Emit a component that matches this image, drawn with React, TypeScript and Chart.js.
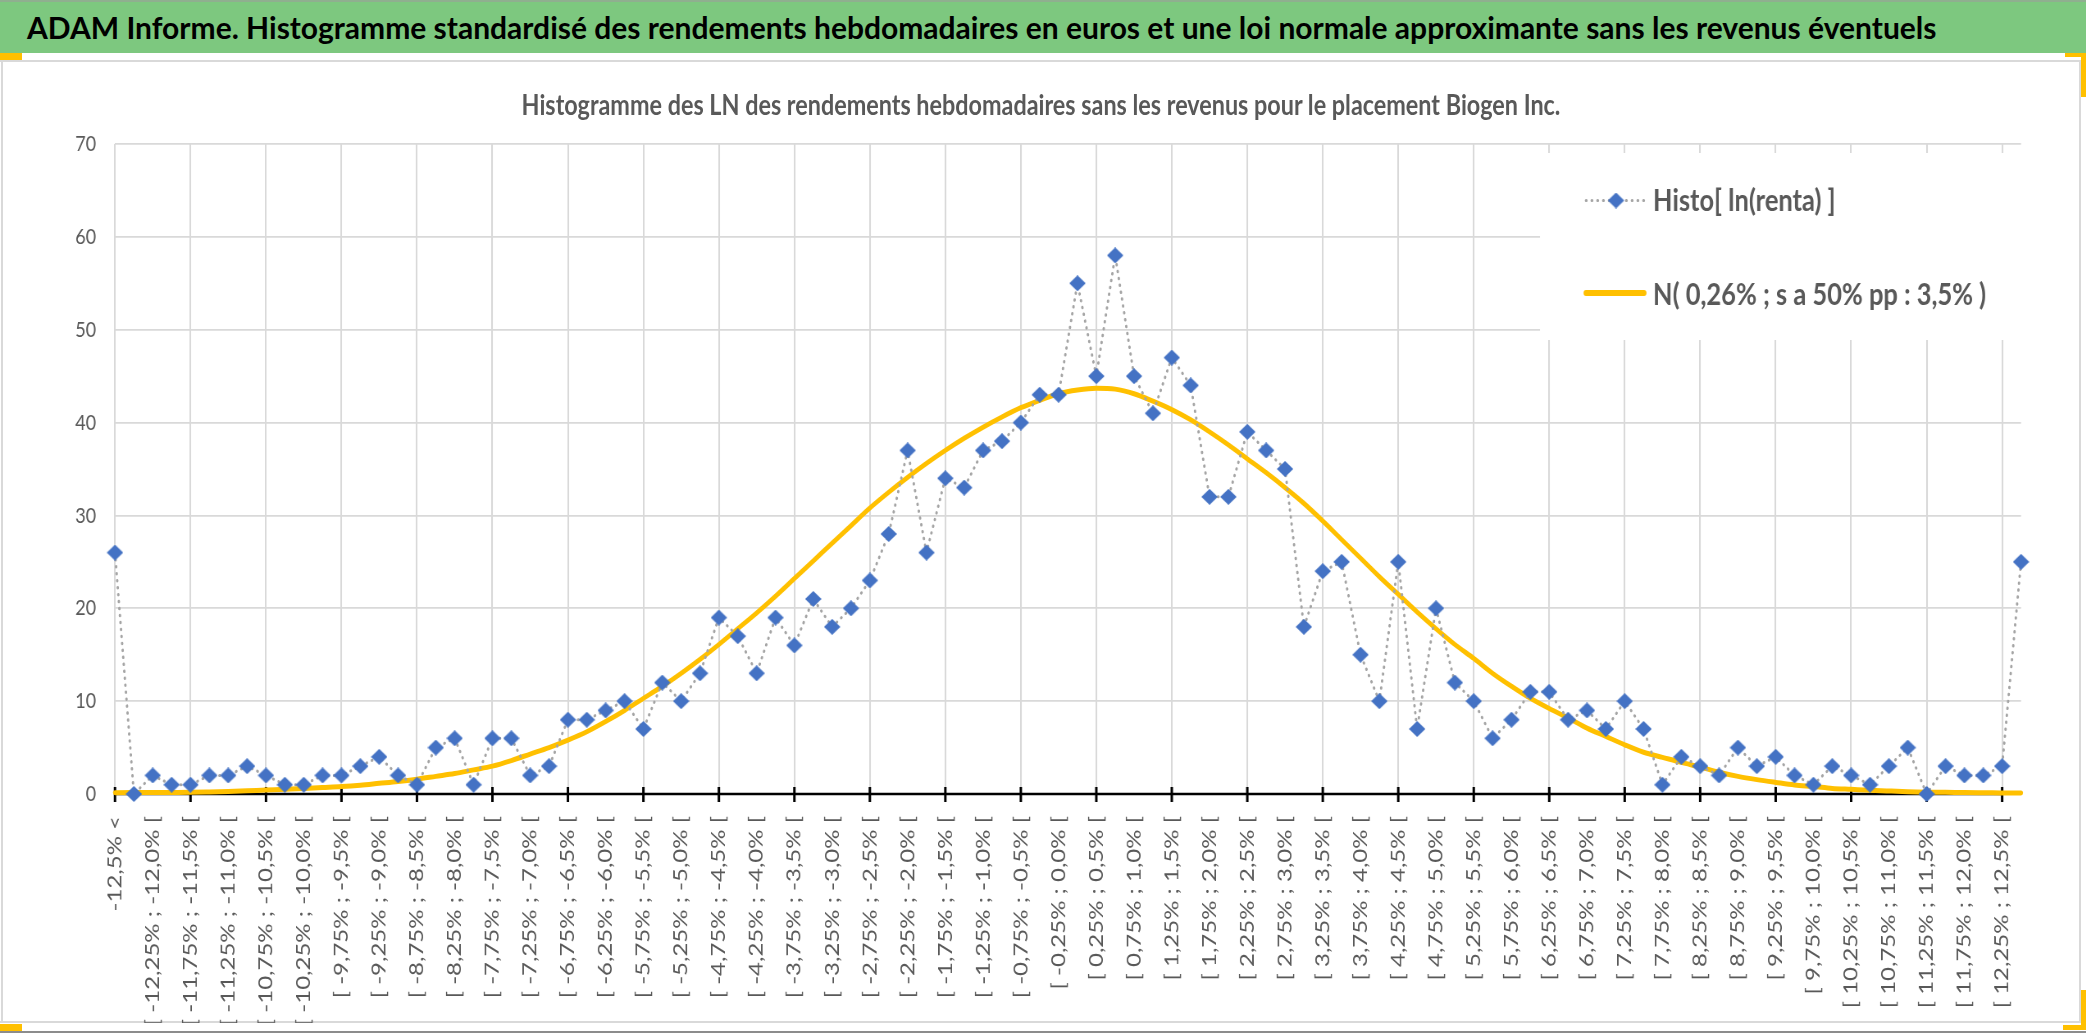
import React, { useEffect, useRef } from 'react';
import { Chart, registerables } from 'chart.js';

Chart.register(...registerables);

// ---------------- data ----------------
const TITLE =
  'ADAM Informe. Histogramme standardisé des rendements hebdomadaires en euros et une loi normale approximante sans les revenus éventuels';
const SUBTITLE =
  'Histogramme des LN des rendements hebdomadaires sans les revenus pour le placement Biogen Inc.';
const SERIES_HIST = 'Histo[ ln(renta) ]';
const SERIES_NORMAL = 'N( 0,26% ; s a 50% pp : 3,5% )';

const BIN_EDGES: string[] = [
  '-12,5', '-12,25', '-12,0', '-11,75', '-11,5', '-11,25', '-11,0', '-10,75', '-10,5', '-10,25',
  '-10,0', '-9,75', '-9,5', '-9,25', '-9,0', '-8,75', '-8,5', '-8,25', '-8,0', '-7,75',
  '-7,5', '-7,25', '-7,0', '-6,75', '-6,5', '-6,25', '-6,0', '-5,75', '-5,5', '-5,25',
  '-5,0', '-4,75', '-4,5', '-4,25', '-4,0', '-3,75', '-3,5', '-3,25', '-3,0', '-2,75',
  '-2,5', '-2,25', '-2,0', '-1,75', '-1,5', '-1,25', '-1,0', '-0,75', '-0,5', '-0,25',
  '0,0', '0,25', '0,5', '0,75', '1,0', '1,25', '1,5', '1,75', '2,0', '2,25',
  '2,5', '2,75', '3,0', '3,25', '3,5', '3,75', '4,0', '4,25', '4,5', '4,75',
  '5,0', '5,25', '5,5', '5,75', '6,0', '6,25', '6,5', '6,75', '7,0', '7,25',
  '7,5', '7,75', '8,0', '8,25', '8,5', '8,75', '9,0', '9,25', '9,5', '9,75',
  '10,0', '10,25', '10,5', '10,75', '11,0', '11,25', '11,5', '11,75', '12,0', '12,25',
  '12,5',
];

const HIST_COUNTS: number[] = [
  26, 0, 2, 1, 1, 2, 2, 3, 2, 1,
  1, 2, 2, 3, 4, 2, 1, 5, 6, 1,
  6, 6, 2, 3, 8, 8, 9, 10, 7, 12,
  10, 13, 19, 17, 13, 19, 16, 21, 18, 20,
  23, 28, 37, 26, 34, 33, 37, 38, 40, 43,
  43, 55, 45, 58, 45, 41, 47, 44, 32, 32,
  39, 37, 35, 18, 24, 25, 15, 10, 25, 7,
  20, 12, 10, 6, 8, 11, 11, 8, 9, 7,
  10, 7, 1, 4, 3, 2, 5, 3, 4, 2,
  1, 3, 2, 1, 3, 5, 0, 3, 2, 2,
  3, 25,
];

const NORMAL_CURVE: number[] = [
  0.14, 0.15, 0.16, 0.17, 0.18, 0.22, 0.27, 0.34, 0.43, 0.5,
  0.6, 0.7, 0.8, 0.95, 1.15, 1.35, 1.6, 1.9, 2.2, 2.6,
  3.0, 3.6, 4.3, 5.0, 5.8, 6.7, 7.8, 9.0, 10.3, 11.6,
  13.0, 14.5, 16.1, 17.8, 19.5, 21.3, 23.2, 25.1, 27.0, 28.9,
  30.8, 32.5, 34.1, 35.6, 37.0, 38.3, 39.5, 40.6, 41.6, 42.4,
  43.1, 43.5, 43.7, 43.6, 43.1, 42.3, 41.4, 40.3, 39.0, 37.6,
  36.1, 34.6, 33.0, 31.3, 29.4, 27.4, 25.4, 23.4, 21.5, 19.6,
  17.8, 16.1, 14.6, 13.0, 11.6, 10.3, 9.2, 8.2, 7.1, 6.2,
  5.3, 4.5, 3.95, 3.4, 2.9, 2.35, 1.9, 1.55, 1.25, 0.97,
  0.8, 0.6, 0.5, 0.4, 0.32, 0.25, 0.2, 0.18, 0.15, 0.13,
  0.12, 0.1,
];

const Y_MIN = 0;
const Y_MAX = 70;
const Y_STEP = 10;

const CATEGORIES: string[] = [
  `${BIN_EDGES[0]}% <`,
  ...BIN_EDGES.slice(1).map((e, k) => `[ ${BIN_EDGES[k]}% ; ${e}% [`),
  `${BIN_EDGES[BIN_EDGES.length - 1]}% >`,
];

// ---------------- layout ----------------
const W = 2086;
const H = 1033;
const K = 0.82; // horizontal squeeze of the chart object
const CW = Math.round(W / K);
const PLOT_LEFT = 115 / K;
const PLOT_RIGHT = 2021 / K;
const PLOT_TOP = 144;
const PLOT_BOTTOM = 794;
const PAD_BOTTOM = 10;
const FONT = 'Lato, "Open Sans", sans-serif';
const TEXT_GREY = '#595959';
const GRID = '#D9D9D9';

const LEG = {
  left: 1540 / K,
  top: 153,
  bottom: 340,
  x0: 1586 / K,
  x1: 1644 / K,
  xc: 1616 / K,
  textX: 1653 / K,
  y1: 200.5,
  base1: 210.5,
  y2: 293,
  base2: 304.5,
};

function makeDiamond(color: string): HTMLCanvasElement {
  const c = document.createElement('canvas');
  c.width = 20;
  c.height = 16;
  const g = c.getContext('2d')!;
  g.fillStyle = color;
  g.beginPath();
  g.moveTo(0, 8);
  g.lineTo(10, 0);
  g.lineTo(20, 8);
  g.lineTo(10, 16);
  g.closePath();
  g.fill();
  return c;
}

export default function App() {
  const canvasRef = useRef<HTMLCanvasElement>(null);

  useEffect(() => {
    document.body.style.margin = '0';
    document.documentElement.style.overflow = 'hidden';
    document.body.style.overflow = 'hidden';
    const canvas = canvasRef.current;
    if (!canvas) return;
    const diamond = makeDiamond('#4472C4');

    const axisPlugin = {
      id: 'excelAxis',
      beforeDatasetsDraw(chart: any) {
        const { ctx, chartArea, scales } = chart;
        const xs = scales.x;
        ctx.save();
        ctx.strokeStyle = '#000000';
        ctx.lineWidth = 2.5;
        ctx.beginPath();
        ctx.moveTo(chartArea.left, chartArea.bottom);
        ctx.lineTo(xs.getPixelForTick(CATEGORIES.length - 2), chartArea.bottom);
        ctx.stroke();
        ctx.lineWidth = 3;
        ctx.beginPath();
        for (let i = 0; i < CATEGORIES.length; i += 4) {
          const x = xs.getPixelForTick(i);
          ctx.moveTo(x, chartArea.bottom - 7);
          ctx.lineTo(x, chartArea.bottom + 8);
        }
        ctx.stroke();
        ctx.restore();
      },
    };

    const legendPlugin = {
      id: 'excelLegend',
      afterDraw(chart: any) {
        const { ctx, chartArea } = chart;
        const ds = chart.data.datasets;
        ctx.save();
        ctx.fillStyle = '#FFFFFF';
        ctx.fillRect(LEG.left, LEG.top, chartArea.right + 2 - LEG.left, LEG.bottom - LEG.top);
        // item 1
        ctx.strokeStyle = ds[0].borderColor;
        ctx.lineWidth = 3;
        ctx.lineCap = 'round';
        ctx.setLineDash([0.5, 6.5]);
        ctx.beginPath();
        ctx.moveTo(LEG.x0, LEG.y1);
        ctx.lineTo(LEG.x1, LEG.y1);
        ctx.stroke();
        ctx.setLineDash([]);
        ctx.drawImage(diamond, LEG.xc - diamond.width / 2, LEG.y1 - diamond.height / 2);
        // item 2
        ctx.strokeStyle = ds[1].borderColor;
        ctx.lineWidth = 6;
        ctx.beginPath();
        ctx.moveTo(LEG.x0, LEG.y2);
        ctx.lineTo(LEG.x1, LEG.y2);
        ctx.stroke();
        ctx.fillStyle = TEXT_GREY;
        ctx.font = `bold 31px ${FONT}`;
        ctx.textAlign = 'left';
        ctx.textBaseline = 'alphabetic';
        ctx.fillText(ds[0].label, LEG.textX, LEG.base1);
        ctx.fillText(ds[1].label, LEG.textX, LEG.base2);
        ctx.restore();
      },
    };

    const chart = new Chart(canvas, {
      type: 'line',
      data: {
        labels: CATEGORIES,
        datasets: [
          {
            label: SERIES_HIST,
            data: HIST_COUNTS,
            borderColor: '#A5A5A5',
            borderWidth: 3,
            borderDash: [0.5, 6.5],
            borderCapStyle: 'round',
            pointStyle: diamond as any,
            pointRadius: 8,
            pointHoverRadius: 8,
            pointBackgroundColor: '#4472C4',
            pointBorderWidth: 0,
            tension: 0,
            fill: false,
            clip: false as any,
          },
          {
            label: SERIES_NORMAL,
            data: NORMAL_CURVE,
            borderColor: '#FFC000',
            borderWidth: 5,
            borderCapStyle: 'round',
            pointRadius: 0,
            cubicInterpolationMode: 'monotone',
            fill: false,
            clip: false as any,
          },
        ],
      },
      options: {
        animation: false,
        responsive: false,
        maintainAspectRatio: false,
        devicePixelRatio: 1,
        events: [],
        layout: {
          padding: { left: 0, top: PLOT_TOP, right: CW - PLOT_RIGHT, bottom: PAD_BOTTOM },
        },
        plugins: {
          legend: { display: false },
          title: { display: false },
          tooltip: { enabled: false },
        },
        scales: {
          x: {
            type: 'category',
            offset: false,
            border: { display: false },
            grid: {
              color: (c: any) => (c.index % 4 === 0 ? GRID : 'rgba(0,0,0,0)'),
              lineWidth: 1.7 / K,
              drawTicks: true,
              tickLength: 8,
              tickColor: 'rgba(0,0,0,0)',
            },
            ticks: {
              autoSkip: false,
              maxRotation: 90,
              minRotation: 90,
              padding: 14,
              color: TEXT_GREY,
              font: { family: FONT, size: 24 },
              callback: (_v: any, i: number) => (i % 2 === 0 ? CATEGORIES[i] : ''),
            },
            afterFit: (s: any) => {
              s.height = H - PAD_BOTTOM - PLOT_BOTTOM;
            },
          },
          y: {
            min: Y_MIN,
            max: Y_MAX,
            border: { display: false },
            grid: { color: GRID, lineWidth: 1.7, drawTicks: false },
            ticks: {
              stepSize: Y_STEP,
              padding: 23,
              color: TEXT_GREY,
              font: { family: FONT, size: 22 },
            },
            afterFit: (s: any) => {
              s.width = PLOT_LEFT;
            },
          },
        },
      },
      plugins: [axisPlugin, legendPlugin],
    } as any);

    let alive = true;
    if ((document as any).fonts) {
      Promise.all([
        (document as any).fonts.load(`22px Lato`),
        (document as any).fonts.load(`bold 31px Lato`),
      ])
        .then(() => {
          if (alive) chart.update();
        })
        .catch(() => {});
    }
    return () => {
      alive = false;
      chart.destroy();
    };
  }, []);

  const abs = (s: React.CSSProperties): React.CSSProperties => ({ position: 'absolute', ...s });

  return (
    <div
      style={{
        position: 'relative',
        width: W,
        height: H,
        overflow: 'hidden',
        background: '#FFFFFF',
        fontFamily: FONT,
      }}
    >
      {/* title bar */}
      <div style={abs({ left: 0, top: 0, width: W, height: 53, background: '#7DC87F' })}>
        <div style={abs({ left: 0, top: 0, width: W, height: 2, background: '#8FAF8F' })} />
        <div
          style={abs({
            left: 27,
            top: 0,
            height: 53,
            lineHeight: '55px',
            fontSize: 30,
            fontWeight: 'bold',
            color: '#000000',
            whiteSpace: 'nowrap',
          })}
        >
          {TITLE}
        </div>
      </div>
      {/* chart frame */}
      <div style={abs({ left: 0, top: 60, width: 2081, height: 2, background: GRID })} />
      <div style={abs({ left: 1, top: 60, width: 2, height: 963, background: GRID })} />
      <div style={abs({ left: 2079, top: 60, width: 2, height: 963, background: GRID })} />
      <div style={abs({ left: 0, top: 1021, width: 2081, height: 2, background: GRID })} />
      <div style={abs({ left: 0, top: 1031, width: W, height: 2, background: '#8C8C8C' })} />
      {/* selection handles */}
      <div style={abs({ left: 0, top: 53, width: 22, height: 7, background: '#FFC000' })} />
      <div style={abs({ left: 2065, top: 53, width: 21, height: 4, background: '#FFC000' })} />
      <div style={abs({ left: 2081, top: 53, width: 5, height: 44, background: '#FFC000' })} />
      <div style={abs({ left: 0, top: 1024, width: 22, height: 7, background: '#FFC000' })} />
      <div style={abs({ left: 2063, top: 1025, width: 23, height: 5, background: '#FFC000' })} />
      <div style={abs({ left: 2081, top: 990, width: 5, height: 40, background: '#FFC000' })} />

      {/* chart object (horizontally squeezed like the reference) */}
      <div
        style={abs({
          left: 0,
          top: 0,
          width: CW,
          height: H,
          transform: `scaleX(${K})`,
          transformOrigin: '0 0',
        })}
      >
        <div
          style={abs({
            left: 0,
            top: 84,
            width: CW - 5,
            height: 40,
            lineHeight: '40px',
            fontSize: 28.5,
            fontWeight: 'bold',
            color: TEXT_GREY,
            textAlign: 'center',
            whiteSpace: 'nowrap',
          })}
        >
          {SUBTITLE}
        </div>
        <canvas
          ref={canvasRef}
          width={CW}
          height={H}
          style={{ position: 'absolute', left: 0, top: 0, width: CW, height: H }}
        />
      </div>
    </div>
  );
}
